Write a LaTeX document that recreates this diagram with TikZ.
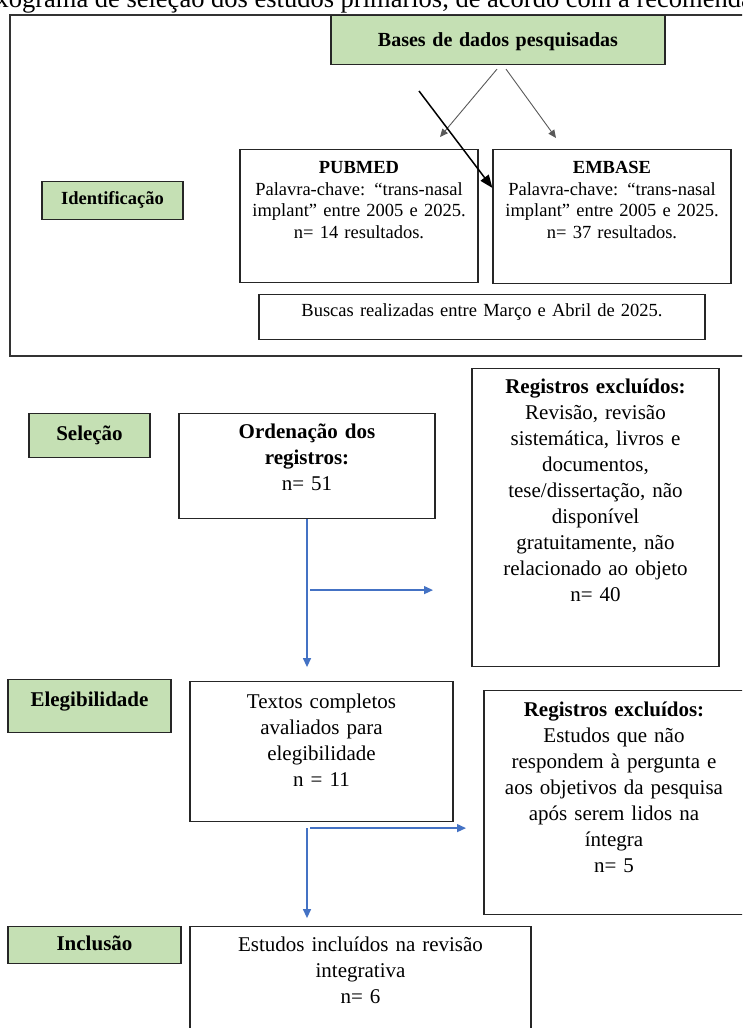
\documentclass[tikz,border=0pt]{standalone}
\usepackage{fontspec}
\setmainfont{Liberation Serif}
\usetikzlibrary{arrows.meta,calc}

\definecolor{stagegreen}{HTML}{C5E0B4}
\definecolor{flowblue}{HTML}{4472C4}
\newcommand{\upperfont}{\fontsize{18.5}{21.5}\selectfont}
\newcommand{\lowerfont}{\fontsize{21}{26}\selectfont}

\tikzset{
  textbox/.style={draw=black!85, line width=1.1pt, anchor=north, inner xsep=3pt, inner ysep=0pt, align=center},
  stagebox/.style={textbox, fill=stagegreen},
  grayflow/.style={draw=black!65, line width=0.9pt, -{Triangle[length=8pt,width=7pt]}},
  blueflow/.style={draw=flowblue, line width=1.3pt, -{Triangle[length=9pt,width=8pt]}}
}

\begin{document}
\begin{tikzpicture}[x=1pt,y=-1pt]
\useasboundingbox (0,0) rectangle (742,1028);
\clip (0,0) rectangle (742,1028);

% The caption
\node[anchor=base west, inner sep=0pt, font=\fontsize{26.5}{30}\selectfont] (caption) at (-40,7) {Fluxograma de seleção dos estudos primários, de acordo com a recomendação PRISMA};

% The frame of the identification
\draw[line width=1.1pt, draw=black!80] (10,15) rectangle (760,356);

% The stage labels
\node[stagebox, text width=135pt, text height=22.5pt, text depth=15.5pt, font=\upperfont\bfseries] (ident) at (112.5,181) {Identificação};
\node[stagebox, text width=115pt, text height=27pt, text depth=17pt, font=\lowerfont\bfseries] (sel) at (89.5,413) {Seleção};
\node[stagebox, text width=157pt, text height=27pt, text depth=26pt, font=\lowerfont\bfseries] (eleg) at (89.5,679) {Elegibilidade};
\node[stagebox, text width=167pt, text height=24pt, text depth=13pt, font=\lowerfont\bfseries] (incl) at (94.5,926) {Inclusão};

% The databases
\node[stagebox, text width=328pt, text height=31pt, text depth=18pt, font=\fontsize{20}{24}\selectfont\bfseries] (bases) at (498,15) {Bases de dados pesquisadas};
\node[textbox, text width=232pt, text height=24pt, text depth=109pt, font=\upperfont] (pub) at (359,149) {\textbf{PUBMED}\\Palavra-chave: “trans-nasal\\implant” entre 2005 e 2025.\\n= 14 resultados.};
\node[textbox, text width=232pt, text height=24pt, text depth=110pt, font=\upperfont] (emb) at (612,149) {\textbf{EMBASE}\\Palavra-chave: “trans-nasal\\implant” entre 2005 e 2025.\\n= 37 resultados.};
\node[textbox, text width=440pt, text height=22pt, text depth=23pt, font=\upperfont] (busca) at (482,294) {Buscas realizadas entre Março e Abril de 2025.};

% The database arrows
\draw[grayflow] ($(bases.south)+(-1,4)$) -- ($(pub.north)+(81,-12)$);
\draw[grayflow] ($(bases.south)+(8,4)$) -- ($(emb.north)+(-56,-11)$);
\coordinate (stray) at (419,91);
\draw[line width=1.5pt, -{Triangle[length=13pt,width=10pt]}] (stray) -- ($(emb.north west)+(0,39)$);

% The records
\node[textbox, text width=250pt, text height=25pt, text depth=80pt, font=\lowerfont] (ord) at (307,413) {\textbf{Ordenação dos}\\\textbf{registros:}\\n= 51};
\node[textbox, text width=241pt, text height=25pt, text depth=273pt, font=\lowerfont] (excl1) at (595.5,368) {\textbf{Registros excluídos:}\\Revisão, revisão\\sistemática, livros e\\documentos,\\tese/dissertação, não\\disponível\\gratuitamente, não\\relacionado ao objeto\\n= 40};
\node[textbox, text width=257pt, text height=27pt, text depth=113pt, font=\lowerfont] (txt) at (321.5,681) {Textos completos\\avaliados para\\elegibilidade\\n = 11};
\node[textbox, text width=254pt, text height=26pt, text depth=198pt, font=\lowerfont] (excl2) at (614,690) {\textbf{Registros excluídos:}\\Estudos que não\\respondem à pergunta e\\aos objetivos da pesquisa\\após serem lidos na\\íntegra\\n= 5};
\node[textbox, text width=335pt, text height=25pt, text depth=120pt, font=\lowerfont] (incl2) at (360.5,926) {Estudos incluídos na revisão\\integrativa\\n= 6};

% The flow arrows
\draw[blueflow] (ord.south) -- ++(0,148);
\draw[blueflow] ($(ord.south)+(3,71)$) -- ++(123,0);
\draw[blueflow] ($(ord.south |- txt.south)+(0,6)$) -- ++(0,90);
\draw[blueflow] ($(ord.south |- txt.south)+(3,6)$) -- ++(156,0);

\end{tikzpicture}
\end{document}
